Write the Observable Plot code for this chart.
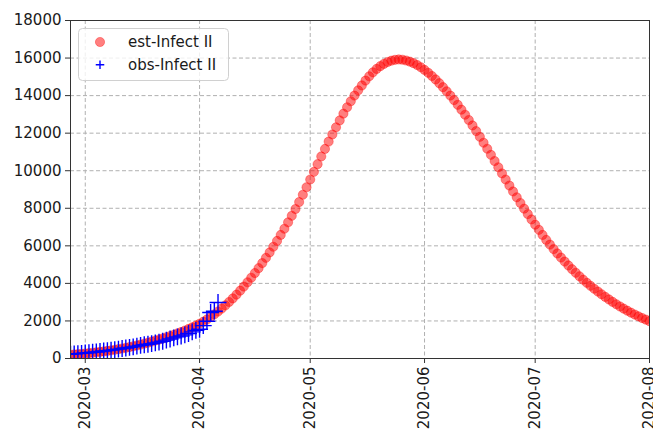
<!DOCTYPE html>
<html>
<head>
<meta charset="utf-8">
<script src="https://cdn.jsdelivr.net/npm/d3@7"></script>
<script src="https://cdn.jsdelivr.net/npm/@observablehq/plot@0.6"></script>
<style>
  body { margin: 0; background: #fff; }
  #chart { position: relative; width: 653px; height: 432px; overflow: hidden; font-family: "DejaVu Sans", sans-serif; }
  #legend { position: absolute; left: 78px; top: 28px; }
</style>
</head>
<body>
<div id="chart"></div>
<script>
// ---- data ----
const startDate = "2020-02-26";
const estLabel = "est-Infect II";
const obsLabel = "obs-Infect II";
const estValues = [
  200,215,230,248,266,285,306,328,352,377,
  404,433,464,497,532,569,608,650,694,741,
  791,843,899,957,1010,1068,1130,1195,1263,1335,
  1410,1490,1573,1660,1752,1850,1960,2080,2210,2350,
  2500,2660,2830,3010,3200,3400,3610,3830,4060,4300,
  4550,4810,5080,5360,5650,5950,6260,6580,6910,7250,
  7600,7960,8330,8720,9120,9530,9940,10350,10760,11160,
  11550,11930,12310,12680,13040,13380,13700,14000,14280,14540,
  14800,15030,15240,15420,15570,15690,15790,15860,15905,15925,
  15910,15870,15810,15730,15630,15510,15370,15215,15045,14860,
  14660,14450,14230,14000,13760,13510,13250,12980,12700,12410,
  12110,11805,11490,11170,10845,10515,10185,9855,9530,9210,
  8895,8585,8280,7980,7690,7405,7125,6850,6580,6315,
  6065,5825,5595,5375,5160,4955,4755,4565,4380,4200,
  4030,3870,3715,3565,3420,3280,3145,3015,2890,2770,
  2655,2545,2440,2340,2245,2155,2070,1990
];
const obsValues = [
  230,245,260,275,290,310,330,350,375,400,
  420,445,470,500,530,560,590,620,660,700,
  730,760,790,830,870,920,980,1040,1100,1150,
  1200,1260,1330,1420,1500,1560,1750,1980,2450,2520,
  2980
];
const xDomain = ["2020-02-26", "2020-08-01"];
const xTicks = ["2020-03-01","2020-04-01","2020-05-01","2020-06-01","2020-07-01","2020-08-01"];
const yTicks = [0,2000,4000,6000,8000,10000,12000,14000,16000,18000];

// ---- build tables ----
const start = new Date(startDate);
const est = estValues.map((v, i) => ({date: d3.utcDay.offset(start, i), value: v}));
const obs = obsValues.map((v, i) => ({date: d3.utcDay.offset(start, i), value: v}));
const xTickDates = xTicks.map(d => new Date(d));

const gridStyle = {stroke: "#b0b0b0", strokeOpacity: 1, strokeWidth: 1, strokeDasharray: "4,2.5"};

const chart = Plot.plot({
  width: 653,
  height: 432,
  marginLeft: 70,
  marginRight: 4,
  marginTop: 20,
  marginBottom: 74,
  style: {fontFamily: "DejaVu Sans, sans-serif", fontSize: "15px", color: "#1a1a1a", background: "#fff"},
  x: {type: "utc", domain: xDomain.map(d => new Date(d))},
  y: {domain: [0, 18000]},
  marks: [
    Plot.gridY(yTicks, gridStyle),
    Plot.gridX(xTickDates, gridStyle),
    Plot.dot(est, {x: "date", y: "value", r: 4.6, fill: "red", fillOpacity: 0.5, stroke: "red", strokeOpacity: 0.45, strokeWidth: 0.8, clip: true}),
    Plot.dot(obs, {x: "date", y: "value", symbol: "plus", r: 5.5, stroke: "blue", strokeWidth: 1.4, clip: true}),
    Plot.frame({stroke: "#333", strokeWidth: 1}),
    Plot.axisY(yTicks, {tickFormat: d => String(d), tickSize: 5, tickPadding: 4, fontSize: 15, label: null, stroke: "#333"}),
    Plot.axisX(xTickDates, {tickFormat: d3.utcFormat("%Y-%m"), tickRotate: -90, tickSize: 5, tickPadding: 3, fontSize: 15, label: null, stroke: "#333"})
  ]
});
const host = document.getElementById("chart");
host.appendChild(chart);

// ---- legend (inside the axes, upper left) ----
const ns = "http://www.w3.org/2000/svg";
const leg = document.createElementNS(ns, "svg");
leg.setAttribute("id", "legend");
leg.setAttribute("width", "152");
leg.setAttribute("height", "54");
leg.innerHTML = `
  <rect x="0.5" y="0.5" width="150" height="52" rx="4" ry="4" fill="#fff" fill-opacity="0.8" stroke="#d0d0d0"/>
  <circle cx="22" cy="14" r="4.6" fill="red" fill-opacity="0.5" stroke="red" stroke-opacity="0.45" stroke-width="0.8"/>
  <path d="M22,32.5v8.5M17.75,36.75h8.5" stroke="blue" stroke-width="1.4" fill="none"/>
  <text x="50" y="14" dy="0.35em" font-family="DejaVu Sans, sans-serif" font-size="15" fill="#1a1a1a">${estLabel}</text>
  <text x="50" y="36.5" dy="0.35em" font-family="DejaVu Sans, sans-serif" font-size="15" fill="#1a1a1a">${obsLabel}</text>
`;
host.appendChild(leg);
</script>
</body>
</html>
